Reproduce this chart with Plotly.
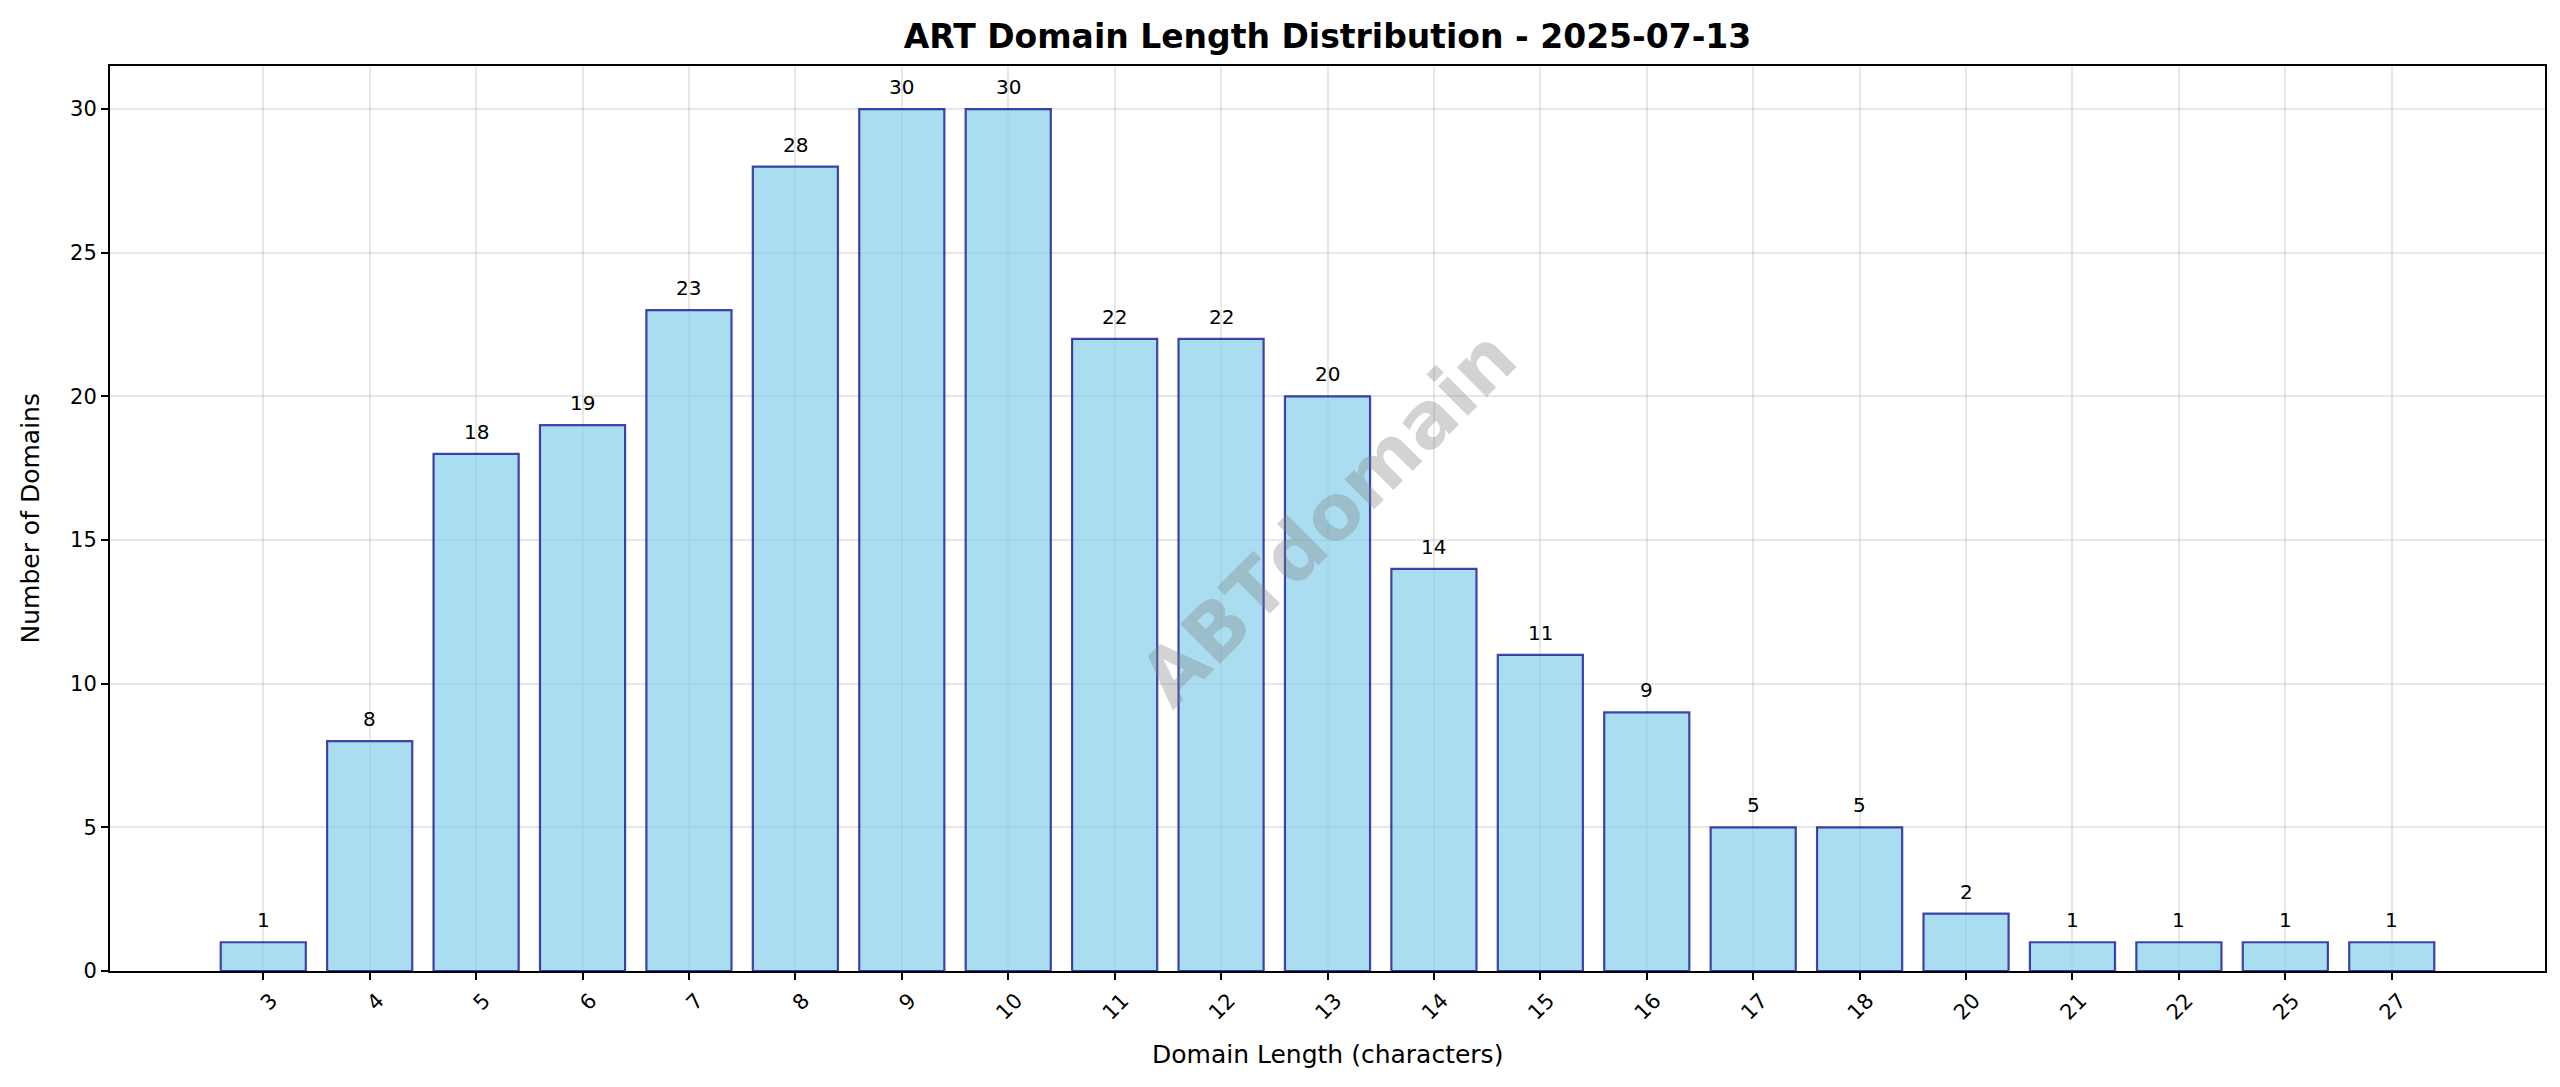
import plotly.graph_objects as go

# Data
lengths = ["3", "4", "5", "6", "7", "8", "9", "10", "11", "12", "13", "14",
           "15", "16", "17", "18", "20", "21", "22", "25", "27"]
counts = [1, 8, 18, 19, 23, 28, 30, 30, 22, 22, 20, 14, 11, 9, 5, 5, 2, 1, 1, 1, 1]
y_ticks = [0, 5, 10, 15, 20, 25, 30]

title_text = "ART Domain Length Distribution - 2025-07-13"
x_title = "Domain Length (characters)"
y_title = "Number of Domains"
watermark = "ABTdomain"

W, H = 2560, 1087
ML, MR, MT, MB = 102, 23, 58, 124
FONT = "DejaVu Sans"

fig = go.Figure()
fig.add_trace(go.Bar(
    x=lengths, y=counts, width=0.8,
    marker=dict(color="rgba(135,206,235,0.7)",
                line=dict(color="rgba(0,0,140,0.72)", width=2.2)),
    hoverinfo="x+y",
))

annotations = []
for i, v in enumerate(counts):
    annotations.append(dict(x=i, y=v, xref="x", yref="y", text=str(v),
                            showarrow=False, yanchor="bottom", yshift=8,
                            font=dict(family=FONT, size=20, color="black")))

# watermark
annotations.append(dict(x=0.5, y=0.5, xref="paper", yref="paper", text="<b>" + watermark + "</b>",
                        showarrow=False, textangle=-45,
                        font=dict(family=FONT, size=77, color="rgba(128,128,128,0.35)")))
# axis titles
annotations.append(dict(x=0.5, y=0, xref="paper", yref="paper", yshift=-83,
                        text=x_title, showarrow=False, yanchor="middle",
                        font=dict(family=FONT, size=25, color="black")))
annotations.append(dict(x=0, y=0.5, xref="paper", yref="paper", xshift=-(ML - 22),
                        text=y_title, showarrow=False, textangle=-90, xanchor="center",
                        font=dict(family=FONT, size=25, color="black")))

fig.update_layout(
    width=W, height=H,
    margin=dict(l=ML, r=MR, t=MT, b=MB, pad=0),
    paper_bgcolor="white", plot_bgcolor="white",
    font=dict(family=FONT, color="black", size=21),
    title=dict(text="<b>" + title_text + "</b>", x=(ML + (W - ML - MR) / 2) / W, xanchor="center",
               y=1 - 28 / H, yanchor="middle", font=dict(family=FONT, size=33, color="black")),
    showlegend=False,
    bargap=0.2,
    annotations=annotations,
)
fig.update_xaxes(
    type="category", range=[-1.44, 21.44],
    tickangle=-45, ticks="outside", ticklen=7, tickwidth=2, tickcolor="black",
    ticklabelshift=8,
    showline=True, linecolor="black", linewidth=2, mirror=True,
    showgrid=True, gridcolor="rgba(176,176,176,0.3)", gridwidth=1.7,
    tickfont=dict(family=FONT, size=21, color="black"),
    zeroline=False,
)
fig.update_yaxes(
    range=[0, 31.5], tickvals=y_ticks,
    ticks="outside", ticklen=7, tickwidth=2, tickcolor="black",
    showline=True, linecolor="black", linewidth=2, mirror=True,
    showgrid=True, gridcolor="rgba(176,176,176,0.3)", gridwidth=1.7,
    tickfont=dict(family=FONT, size=21, color="black"),
    zeroline=False,
)

fig.write_html("out.html")
